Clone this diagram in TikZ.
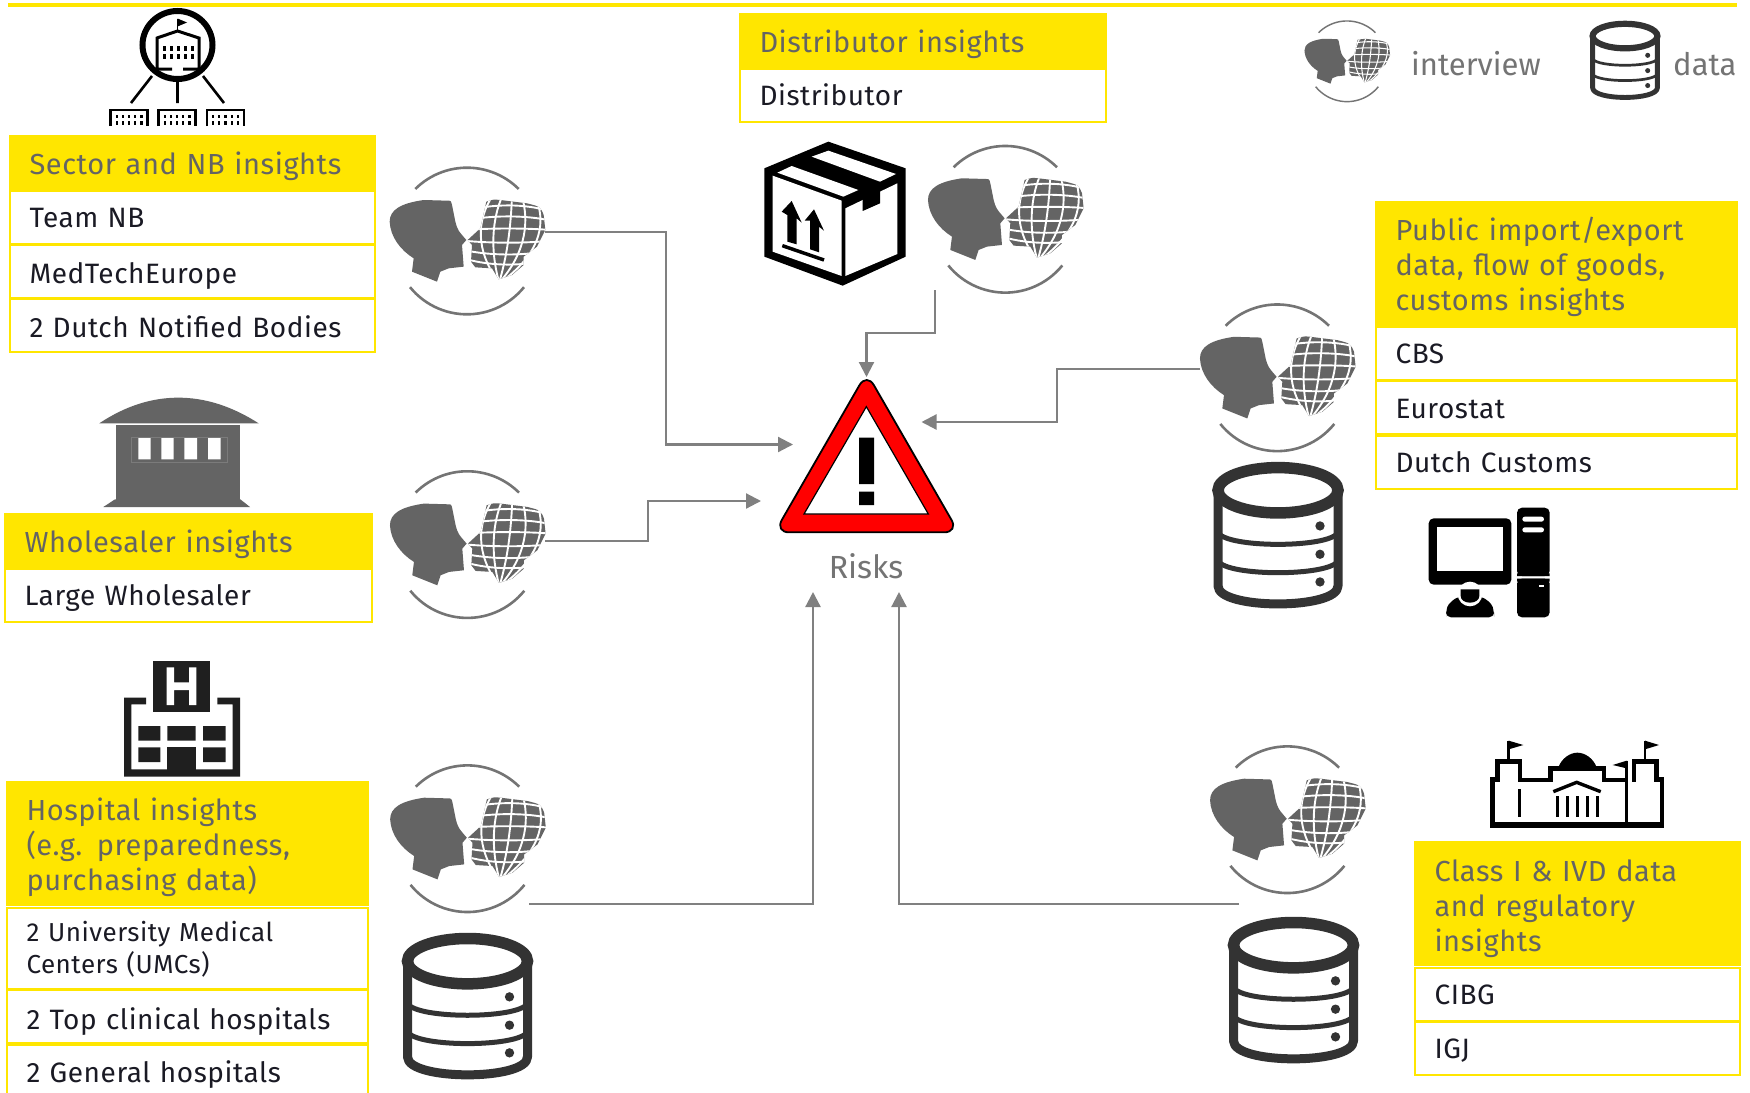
\documentclass[tikz,border=0pt]{standalone}
\usepackage{fontspec}
\setmainfont{Fira Sans}
\newfontfamily\hdrfont[LetterSpace=2]{Fira Sans}
\newfontfamily\rowfont[LetterSpace=2]{Fira Sans}
\usetikzlibrary{arrows.meta,positioning}
\definecolor{eyyellow}{HTML}{FFE600}
\definecolor{eygray}{HTML}{646464}
\definecolor{eyink}{HTML}{1A1A24}
\definecolor{dbink}{HTML}{333333}
\definecolor{linkgray}{HTML}{808080}
\newcommand{\hdrstrut}{\rule{0pt}{30pt}}
\tikzset{
  wide/.style={minimum width=#1,text width=#1-39pt},
  hdr/.style={anchor=north west,fill=eyyellow,draw=eyyellow,line width=2pt,text=eygray,align=left,inner xsep=19.5pt,inner ysep=0pt,font=\hdrfont\fontsize{29}{35}\selectfont},
  rowbox/.style={anchor=north west,fill=white,draw=eyyellow,line width=2pt,text=eyink,align=left,inner xsep=19.5pt,inner ysep=0pt,font=\rowfont\fontsize{28}{35}\selectfont},
  rowsmall/.style={rowbox,font=\rowfont\fontsize{26}{32}\selectfont},
  oneline/.style={minimum height=53pt,text height=23.5pt,text depth=2.5pt},
  hdrline/.style={minimum height=53pt,text height=25pt,text depth=1pt},
  legend/.style={text=eygray!90,inner sep=0pt,font=\fontsize{31}{36}\selectfont},
  conn/.style={draw=linkgray,line width=2.2pt,-{Triangle[length=15pt,width=15pt]}},
  rail/.style={fill=eyyellow},
}
% interview icon: centre x, y, scale (coordinates taken from a 3x crop)
\newcommand{\interviewicon}[3]{%
\begin{scope}[shift={(#1,#2)},scale=#3/3,shift={(-260,-273)}]
  \draw[draw=eygray!90,line width=#3*2.6pt] plot[domain=-44.8:44.8,samples=30] ({260+220*sin(\x)},{273-220*cos(\x)});
  \draw[draw=eygray!90,line width=#3*2.6pt] plot[domain=-51:51,samples=30] ({260+220*sin(\x)},{273+220*cos(\x)});
  \fill[eygray] (95,365) -- (100,325) .. controls (60,300) and (30,260) .. (28,215)
     .. controls (28,180) and (60,160) .. (130,150) -- (200,152) .. controls (212,152) .. (215,165)
     -- (225,215) .. controls (232,240) .. (258,270) -- (245,285) -- (250,350) -- (205,355)
     -- (180,365) -- (170,395) -- cycle;
  \begin{scope}
    \clip (262,270) -- (300,235) -- (318,155) .. controls (340,148) .. (360,150) -- (440,160)
      .. controls (480,170) .. (490,195) -- (495,240) -- (470,290) -- (430,320) -- (430,345)
      -- (395,375) -- (355,388) -- (335,355) -- (285,352) -- (272,335) -- (275,285) -- cycle;
    \fill[eygray] (250,130) rectangle (510,400);
    \begin{scope}[draw=white,line width=#3*1.9pt]
      \draw (250,185) .. controls (330,160) and (440,160) .. (510,185);
      \draw (250,212) .. controls (330,195) and (440,195) .. (510,212);
      \draw (250,240) .. controls (330,234) and (440,234) .. (510,240);
      \draw (250,272) .. controls (330,280) and (440,280) .. (510,272);
      \draw (250,300) .. controls (330,318) and (440,318) .. (510,300);
      \draw (250,325) .. controls (330,350) and (440,350) .. (510,325);
      \draw (335,140) .. controls (290,210) and (285,300) .. (352,392);
      \draw (365,140) .. controls (335,210) and (330,300) .. (355,392);
      \draw (395,140) .. controls (392,210) and (385,300) .. (358,392);
      \draw (425,140) .. controls (445,210) and (440,300) .. (362,392);
      \draw (465,140) .. controls (495,210) and (490,300) .. (368,392);
    \end{scope}
  \end{scope}
\end{scope}}
% database icon: centre x, y, scale
\newcommand{\databaseicon}[3]{%
\begin{scope}[shift={(#1,#2)},scale=#3/3,shift={(-232,-256)},draw=dbink]
  \draw[line width=#3*11.5pt] (232,123) ellipse [x radius=180,y radius=68];
  \draw[line width=#3*9pt,line join=round] (52,123) -- (52,410) .. controls (52,482) and (412,482) .. (412,410) -- (412,123);
  \draw[line width=#3*5pt] (52,250) .. controls (80,297) and (384,297) .. (412,250);
  \draw[line width=#3*5pt] (52,335) .. controls (80,382) and (384,382) .. (412,335);
  \fill[dbink] (358,230) circle [radius=14] (358,315) circle [radius=14] (358,398) circle [radius=14];
\end{scope}}
\begin{document}
\begin{tikzpicture}[x=1pt,y=-1pt]
\path[use as bounding box,clip] (0,0) rectangle (1750,1092);
\fill[white] (0,0) rectangle (1750,1092);
\fill[rail] (8,2.5) rectangle (1737,7);

% ---------- tables
\node[hdr,wide=365pt,hdrline] (t1h) at (9,135) {Sector and NB insights};
\node[rowbox,wide=365pt,oneline] (t1a) at (9,189.5) {Team NB};
\node[rowbox,wide=365pt,oneline,text height=25pt,text depth=1pt] (t1b) at (9,243.5) {MedTechEurope};
\node[rowbox,wide=365pt,oneline,text height=25pt,text depth=1pt] (t1c) at (9,297.5) {2 Dutch Notified Bodies};

\node[hdr,wide=367pt,hdrline] (t2h) at (4,513) {Wholesaler insights};
\node[rowbox,wide=367pt,oneline] (t2a) at (4,567.5) {Large Wholesaler};

\node[hdr,wide=361pt,minimum height=123pt] (t3h) at (6,781) {\hdrstrut Hospital insights\\(e.g. preparedness,\\purchasing data)};
\node[rowsmall,wide=361pt,minimum height=81pt] (t3a) at (6,906.5) {\rule{0pt}{23pt}2 University Medical\\Centers (UMCs)};
\node[rowbox,wide=361pt,oneline,text height=26pt,text depth=0pt] (t3b) at (6,989) {2 Top clinical hospitals};
\node[rowbox,wide=361pt,minimum height=60pt,text height=24pt,text depth=9pt] (t3c) at (6,1043.5) {2 General hospitals};

\node[hdr,wide=366pt,hdrline] (t4h) at (739,13) {Distributor insights};
\node[rowbox,wide=366pt,oneline] (t4a) at (739,67.5) {Distributor};

\node[hdr,wide=361pt,minimum height=123pt] (t5h) at (1375,201) {\hdrstrut Public import/export\\data, flow of goods,\\customs insights};
\node[rowbox,wide=361pt,oneline] (t5a) at (1375,325.5) {CBS};
\node[rowbox,wide=361pt,oneline] (t5b) at (1375,380) {Eurostat};
\node[rowbox,wide=361pt,oneline] (t5c) at (1375,434.5) {Dutch Customs};

\node[hdr,wide=325pt,minimum height=123pt] (t6h) at (1414,841) {\rule{0pt}{32pt}Class I \& IVD data\\and regulatory\\insights};
\node[rowbox,wide=325pt,oneline] (t6a) at (1414,966.5) {CIBG};
\node[rowbox,wide=325pt,oneline] (t6b) at (1414,1020.5) {IGJ};

% ---------- interview icons
\interviewicon{467}{241}{1}
\interviewicon{467.3}{544.6}{1}
\interviewicon{467.5}{838.7}{1}
\interviewicon{1005.3}{219.3}{1}
\interviewicon{1277.3}{377.8}{1}
\interviewicon{1287.4}{819.7}{1}
\interviewicon{1347}{61.3}{0.55}
% ---------- database icons
\databaseicon{467.5}{1005.5}{1}
\databaseicon{1278}{534.6}{1}
\databaseicon{1293.5}{989.5}{1}
\databaseicon{1625}{60}{0.54}

% ---------- legend and label texts
\node[legend,anchor=west] (lgi) at (1411,64) {interview};
\node[legend,anchor=west] (lgd) at (1673,64) {data};
\node[legend,anchor=center,font=\fontsize{32}{36}\selectfont] (risklabel) at (866,566) {Risks};

% ---------- warning triangle
\begin{scope}[shift={(760,360)},scale=1/3]
  \draw[fill=red,draw=black,line width=1.8pt,rounded corners=14.4pt] (320,38) -- (596,517) -- (44,517) -- cycle;
  \draw[fill=white,draw=black,line width=1.2pt] (319,140) -- (505,462) -- (132,462) -- cycle;
  \fill[black] (297,233) rectangle (342,372) (297,395) rectangle (342,435);
\end{scope}

% ---------- sector / school icon
\begin{scope}[black]
  \draw[line width=6pt] (177.5,45) ellipse [x radius=35,y radius=34];
  \draw[line width=2.6pt] (152,76) -- (131,103) (177.5,80) -- (177.5,103) (203,76) -- (224,103);
  \draw[line width=1.6pt] (177.5,31) -- (177.5,19);
  \fill (177.5,18.5) -- (187,22.5) -- (177.5,26.5) -- cycle;
  \draw[line width=3pt] (172,69) -- (157,69) -- (157,38) -- (177.5,31) -- (199,38) -- (199,69) -- (183,69);
  \foreach \wx in {164.5,171.5,178.5,185.5,192.5}{
    \fill (\wx-1.2,46) rectangle (\wx+1.2,51);
    \fill (\wx-1.2,54) rectangle (\wx+1.2,59);
  }
  \foreach \bx in {109.5,157.5,206}{
    \draw[line width=2.2pt] (\bx+1,126) -- (\bx+1,110) -- (\bx+38,110) -- (\bx+38,126);
    \foreach \wi in {0,1,2,3,4}{
      \fill (\bx+6+\wi*6.2,114.5) rectangle (\bx+8.2+\wi*6.2,118);
      \fill (\bx+6+\wi*6.2,121) rectangle (\bx+8.2+\wi*6.2,125);
    }
  }
\end{scope}

% ---------- wholesaler building
\begin{scope}[shift={(60,380)},scale=1/3]
  \fill[eygray] (118,130) .. controls (200,75) and (280,53) .. (355,53) .. controls (430,53) and (510,75) .. (596,130) -- cycle;
  \fill[eygray] (168,134) rectangle (541,360);
  \fill[eygray] (130,381) -- (165,358) -- (541,358) -- (570,381) -- cycle;
  \fill[white] (235,172) rectangle (272,238) (304,172) rectangle (341,238) (373,172) rectangle (411,238) (444,172) rectangle (482,238);
  \draw[eygray!85,line width=0.4pt] (215,172) rectangle (503,247);
\end{scope}

% ---------- hospital
\begin{scope}[shift={(100,650)},scale=1/3,fill=black!88]
  \fill (158,34) rectangle (330,186);
  \fill[white] (200,52) rectangle (222,165) (267,52) rectangle (289,165) (222,97) rectangle (267,120);
  \fill (72,143) -- (138,143) -- (138,163) -- (94,163) -- (94,358) -- (398,358) -- (398,163) -- (352,163) -- (352,143) -- (420,143) -- (420,380) -- (72,380) -- cycle;
  \fill (115,228) rectangle (181,272) (202,228) rectangle (287,272) (309,228) rectangle (377,272);
  \fill (115,292) rectangle (181,336) (309,292) rectangle (377,336);
  \fill (202,292) rectangle (287,360);
\end{scope}

% ---------- distributor parcel
\begin{scope}[shift={(700,0)},scale=1/3]
  \fill[black] (385,425) -- (617,505) -- (617,770) -- (428,857) -- (193,770) -- (193,505) -- cycle;
  \fill[white] (218,527) -- (425,602) -- (425,828) -- (218,755) -- cycle;
  \fill[white] (436,625) -- (592,550) -- (592,762) -- (436,828) -- cycle;
  \fill[white] (232,518) -- (275,498) -- (475,570) -- (430,590) -- cycle;
  \fill[white] (335,470) -- (385,452) -- (588,522) -- (540,545) -- cycle;
  \fill[black] (488,580) -- (540,555) -- (540,610) -- (488,633) -- cycle;
  \fill[black] (275,603) -- (305,668) -- (290,655) -- (290,733) -- (262,725) -- (262,645) -- (245,635) -- cycle;
  \fill[black] (342,628) -- (372,692) -- (357,680) -- (357,757) -- (330,748) -- (330,662) -- (314,662) -- cycle;
  \draw[black,line width=3.5pt] (247,737) -- (372,780);
\end{scope}

% ---------- computer
\begin{scope}[shift={(1420,490)},scale=1/3]
  \fill[black,rounded corners=5pt] (26,85) rectangle (274,284);
  \fill[white] (51,110) rectangle (249,242);
  \fill[black,rounded corners=5pt] (78,382) -- (78,365) .. controls (85,340) and (105,325) .. (125,320) -- (175,320) .. controls (195,325) and (215,340) .. (222,365) -- (222,382) -- cycle;
  \fill[white] (150,312) circle [radius=37];
  \fill[black] (122,298) -- (178,298) -- (178,318) .. controls (178,330) and (165,338) .. (150,338) .. controls (135,338) and (122,330) .. (122,318) -- cycle;
  \fill[black,rounded corners=5pt] (291,258) -- (291,53) -- (389,53) -- (389,258) -- cycle;
  \fill[black,rounded corners=5pt] (291,266) -- (291,382) -- (389,382) -- (389,266) -- cycle;
  \fill[black] (291,250) rectangle (389,258) (291,266) rectangle (389,275);
  \fill[white,rounded corners=2.5pt] (307,80) rectangle (372,95) (307,112) rectangle (372,127);
  \fill[white] (357,284) rectangle (372,291);
\end{scope}

% ---------- parliament
\begin{scope}[shift={(1480,730)},scale=1/3,black]
  \draw[line width=4.6pt,line join=miter] (37,285) -- (37,148) -- (53,148) -- (53,95) -- (120,95) -- (120,150) -- (212,150) -- (212,115) -- (372,115) -- (372,150) -- (440,150);
  \draw[line width=4.6pt,line join=miter] (462,155) -- (462,95) -- (530,95) -- (530,148) -- (546,148) -- (546,285);
  \draw[line width=5.2pt] (30,285) -- (552,285);
  \draw[line width=2.8pt] (440,92) -- (440,280);
  \draw[line width=2.8pt] (86,32) -- (86,92) (495,32) -- (495,92);
  \fill (86,32) -- (130,45) -- (86,58) -- cycle;
  \fill (495,32) -- (537,45) -- (495,58) -- cycle;
  \fill (440,92) -- (398,105) -- (440,115) -- cycle;
  \fill (235,112) .. controls (245,85) and (270,68) .. (292,68) .. controls (315,68) and (340,85) .. (350,112) -- cycle;
  \draw[line width=3.4pt] (220,185) -- (290,157) -- (362,185);
  \foreach \cx in {232,262,292,322,352}{ \fill (\cx-5,197) rectangle (\cx+5,262); }
  \fill (113,177) rectangle (123,262);
\end{scope}

% ---------- connector ends
\coordinate (iv1out) at (545,232);
\coordinate (iv2out) at (545,541);
\coordinate (iv3out) at (529,904);
\coordinate (iv4out) at (935,290);
\coordinate (iv5out) at (1200,369);
\coordinate (iv6out) at (1239,904);
\coordinate (riskL1) at (793,444.5);
\coordinate (riskL2) at (761,501);
\coordinate (riskT) at (866.5,377);
\coordinate (riskR) at (921.5,422);
\coordinate (riskB1) at (813,592);
\coordinate (riskB2) at (899,592);
\draw[conn] (iv1out) -- ++(121,0) |- (riskL1);
\draw[conn] (iv2out) -- ++(103,0) |- (riskL2);
\draw[conn] (iv4out) -- ++(0,43) -| (riskT);
\draw[conn] (iv5out) -- ++(-143,0) |- (riskR);
\draw[conn] (iv3out) -| (riskB1);
\draw[conn] (iv6out) -| (riskB2);
\end{tikzpicture}
\end{document}
